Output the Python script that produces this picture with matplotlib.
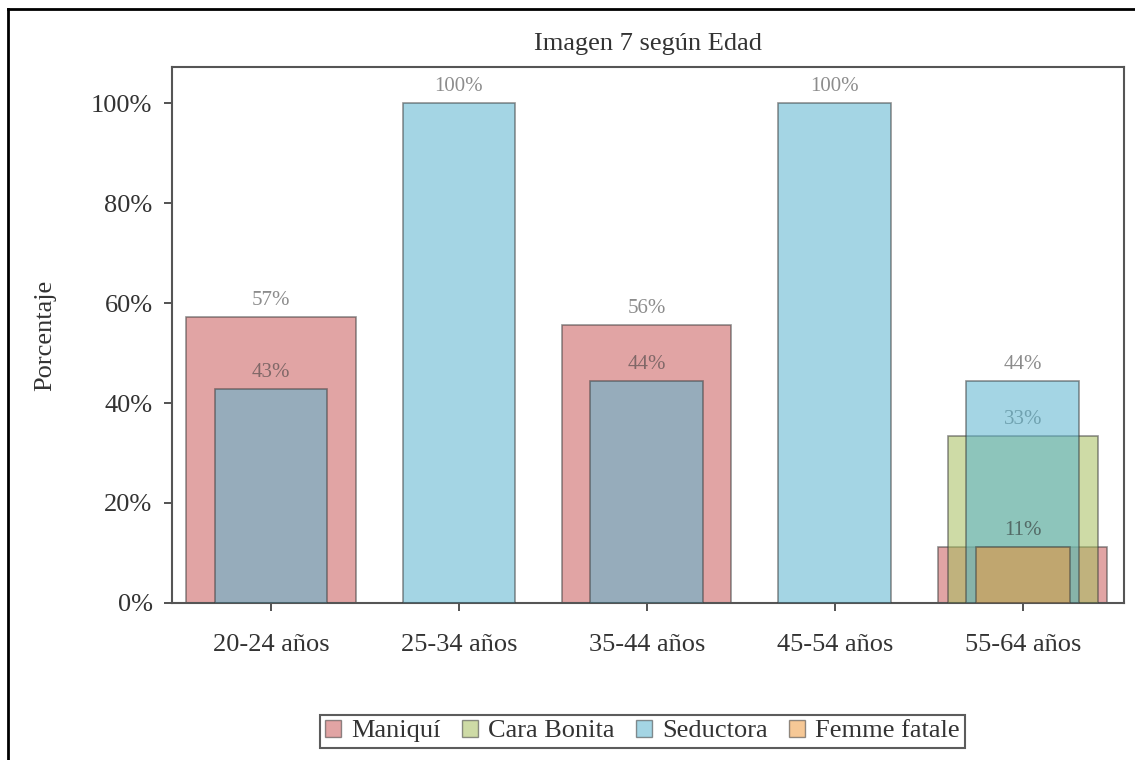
import numpy as np
import matplotlib
matplotlib.use("Agg")
import matplotlib.pyplot as plt
from matplotlib.lines import Line2D
from matplotlib.patches import Patch
from matplotlib.ticker import FuncFormatter

plt.rcParams['font.family'] = ['Liberation Serif', 'DejaVu Serif']

# data (percent of each age group)
edades = ['20-24 años', '25-34 años', '35-44 años', '45-54 años', '55-64 años']
series = ['Maniquí', 'Cara Bonita', 'Seductora', 'Femme fatale']
maniqui = [57.14, 0, 55.56, 0, 11.11]
cara_bonita = [0, 0, 0, 0, 33.33]
seductora = [42.86, 100, 44.44, 100, 44.44]
femme_fatale = [0, 0, 0, 0, 11.11]
valores = [maniqui, cara_bonita, seductora, femme_fatale]

colores = ['#ca5a5a', '#a6be5d', '#59b4ce', '#f09c40']
anchos = [0.9, 0.8, 0.6, 0.5]
alpha = 0.55

fig = plt.figure(figsize=(11.35, 7.6), dpi=100)
ax = fig.add_axes([0.1515, 0.2066, 0.8385, 0.7052])

x = np.arange(len(edades))
for i, (nombre, vals) in enumerate(zip(series, valores)):
    vals = np.array(vals) / 100.0
    mask = vals > 0
    z = 2 + i * 2
    ax.bar(x[mask], vals[mask], width=anchos[i], color=colores[i], alpha=alpha,
           edgecolor='#3a3a3a', linewidth=1.2, zorder=z)
    for xi, v in zip(x[mask], vals[mask]):
        ax.annotate(f"{v * 100:.0f}%", (xi, v), xytext=(0, 5), textcoords='offset points',
                    ha='center', va='bottom', fontsize=15, color='#404040', alpha=0.6,
                    zorder=z + 1)

ax.set_xlim(-0.527, 4.537)
ax.set_ylim(0, 1.072)
ax.set_xticks(x)
ax.set_xticklabels(edades)
ax.set_yticks(np.arange(0, 1.01, 0.2))
ax.yaxis.set_major_formatter(FuncFormatter(lambda v, p: f"{v * 100:.0f}%"))
ax.tick_params(axis='both', labelsize=19, length=6, width=1.3, color='#444444',
               labelcolor='#333333')
ax.tick_params(axis='x', pad=16)
ax.tick_params(axis='y', pad=8)
for s in ax.spines.values():
    s.set_color('#555555')
    s.set_linewidth(1.5)

ax.set_ylabel('Porcentaje', fontsize=19, color='#333333', labelpad=25)
ax.set_title('Imagen 7 según Edad', fontsize=19, color='#333333', pad=12)

handles = [Patch(facecolor=c, alpha=alpha, edgecolor='#3a3a3a', linewidth=1) for c in colores]
leg = fig.legend(handles, series, loc='center', bbox_to_anchor=(0.566, 0.038), ncol=4,
                 fontsize=19, frameon=True, fancybox=False, edgecolor='#333333',
                 handlelength=0.6, handleheight=0.6, handletextpad=0.4,
                 columnspacing=0.8, borderpad=0.2, borderaxespad=0)
leg.get_frame().set_linewidth(1.5)
for t in leg.get_texts():
    t.set_color('#333333')

# outer frame lines (left and top)
fig.add_artist(Line2D([0.007, 0.007], [0, 0.988], color='black', linewidth=2,
                      transform=fig.transFigure))
fig.add_artist(Line2D([0.007, 1.0], [0.988, 0.988], color='black', linewidth=2,
                      transform=fig.transFigure))

fig.savefig('out.png', dpi=100)
